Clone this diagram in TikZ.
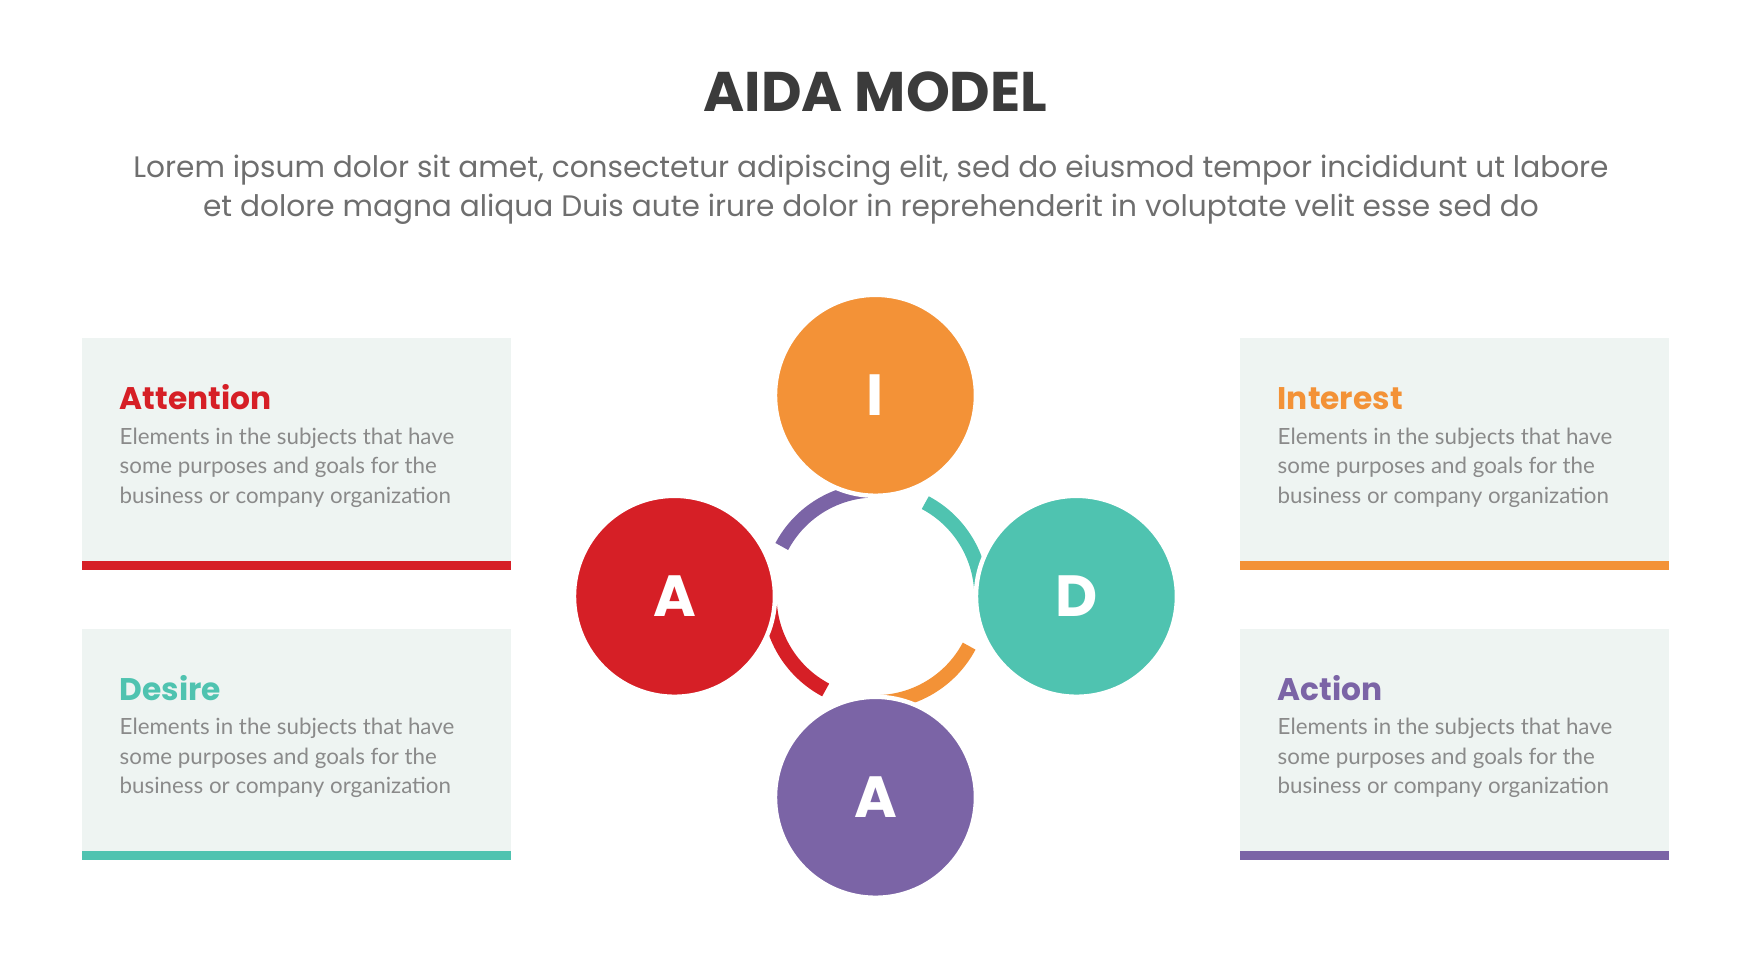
\documentclass[tikz,border=0pt]{standalone}
\usepackage{fontspec}
\setmainfont{Poppins}
\newfontfamily\bodyfont{Lato}
\definecolor{cred}{HTML}{D61F26}
\definecolor{corange}{HTML}{F39237}
\definecolor{cteal}{HTML}{4FC3B0}
\definecolor{cpurple}{HTML}{7B64A6}
\definecolor{cbox}{HTML}{EEF4F2}
\definecolor{ctitle}{HTML}{3B3B3B}
\definecolor{csub}{HTML}{6E6E6E}
\definecolor{cbody}{HTML}{8A8A8A}
\tikzset{
  bubble/.style={circle, minimum size=180pt, inner sep=0pt, draw=white, line width=4pt, text=white, font=\fontsize{52}{52}\selectfont\bfseries},
  card/.style={fill=cbox, draw=none},
  heading/.style={anchor=base west, font=\fontsize{28}{28}\selectfont\bfseries, inner sep=0pt},
  body/.style={anchor=north west, align=left, text=cbody, inner sep=0pt, font=\bodyfont\fontsize{20}{26.3}\selectfont},
  ring/.style={line width=13pt},
}
\begin{document}
\begin{tikzpicture}[x=1pt,y=-1pt]
\useasboundingbox (0,0) rectangle (1560,877);
\node[font=\fontsize{50}{50}\selectfont\bfseries, text=ctitle] (title) at (784,82) {AIDA MODEL};
\node[font=\fontsize{26.5}{35}\selectfont, text=csub, align=center] (sub) at (780,170) {Lorem ipsum dolor sit amet, consectetur adipiscing elit, sed do eiusmod tempor incididunt ut labore\\et dolore magna aliqua Duis aute irure dolor in reprehenderit in voluptate velit esse sed do};
% cards
\foreach \nm/\x/\y/\c/\t in {att/73/303/cred/Attention, des/73/563/cteal/Desire, int/1110/303/corange/Interest, act/1110/563/cpurple/Action}{
  \fill[cbox] (\x,\y) rectangle ++(385,199);
  \fill[\c] (\x,\y+199) rectangle ++(385,8);
  \node[heading, text=\c] (\nm-h) at (\x+34,\y+64) {\t};
  \node[body] (\nm-b) at (\x+34,\y+80) {Elements in the subjects that have\\some purposes and goals for the\\business or company organization};
}
% ring arcs
\coordinate (ctr) at (784,534);
\draw[ring, cred] ([shift={(180:95)}]ctr) arc[start angle=180, end angle=118, radius=95];
\draw[ring, corange] ([shift={(90:95)}]ctr) arc[start angle=90, end angle=28, radius=95];
\draw[ring, cteal] ([shift={(0:95)}]ctr) arc[start angle=0, end angle=-62, radius=95];
\draw[ring, cpurple] ([shift={(270:95)}]ctr) arc[start angle=270, end angle=208, radius=95];
% bubbles
\node[bubble, fill=corange] (bi) at (784,354) {I};
\node[bubble, fill=cteal] (bd) at (964,534) {D};
\node[bubble, fill=cpurple] (ba) at (784,714) {A};
\node[bubble, fill=cred] (bat) at (604,534) {A};
\end{tikzpicture}
\end{document}
